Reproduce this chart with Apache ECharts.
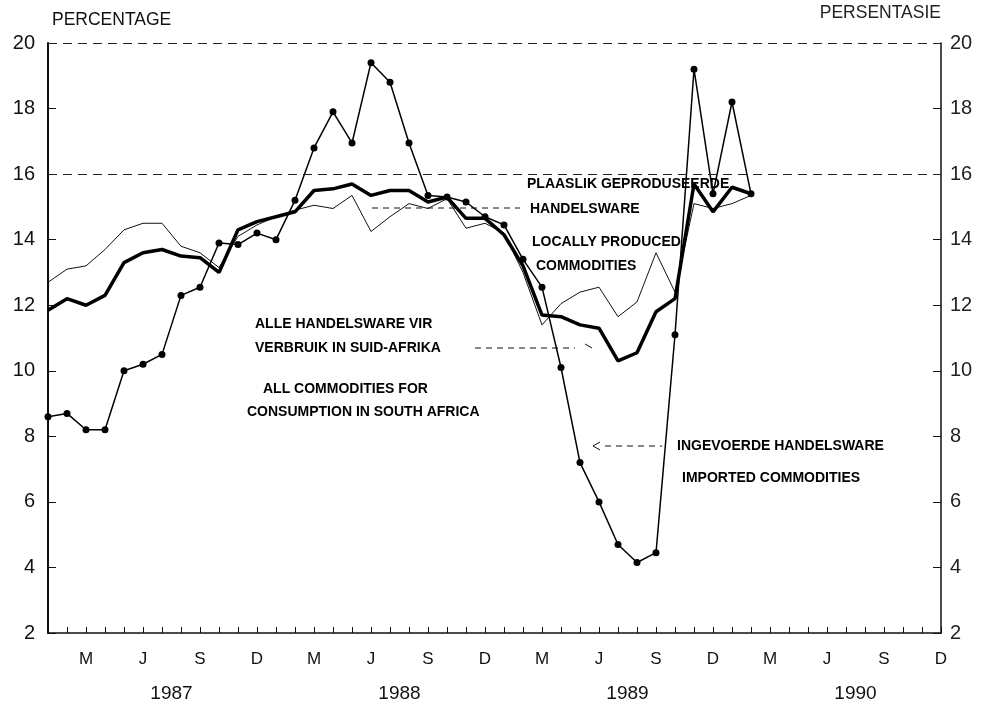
<!DOCTYPE html>
<html>
<head>
<meta charset="utf-8">
<script src="https://cdn.jsdelivr.net/npm/echarts@6/dist/echarts.min.js"></script>
<style>
  html, body { margin: 0; padding: 0; background: #fff; }
  #chart { width: 982px; height: 706px; }
</style>
</head>
<body>
<div id="chart"></div>
<script>
//--------------------------------
// Data
//--------------------------------
const years = ['1987', '1988', '1989', '1990'];
const monthNames = ['Jan', 'Feb', 'Mar', 'Apr', 'May', 'Jun', 'Jul', 'Aug', 'Sep', 'Oct', 'Nov', 'Dec'];
const quarterLetters = ['', '', 'M', '', '', 'J', '', '', 'S', '', '', 'D'];

// imported commodities (dots)
const imported = [
    8.6, 8.7, 8.2, 8.2, 10.0, 10.2, 10.5, 12.3, 12.55, 13.9, 13.85, 14.2,
    14.0, 15.2, 16.8, 17.9, 16.95, 19.4, 18.8, 16.95, 15.35, 15.3, 15.15, 14.7,
    14.45, 13.4, 12.55, 10.1, 7.2, 6.0, 4.7, 4.15, 4.45, 11.1, 19.2, 15.4,
    18.2, 15.4, null, null, null, null, null, null, null, null, null, null
];
// all commodities for consumption (thick)
const allCommodities = [
    11.85, 12.2, 12.0, 12.3, 13.3, 13.6, 13.7, 13.5, 13.45, 13.0, 14.3, 14.55,
    14.7, 14.85, 15.5, 15.55, 15.7, 15.35, 15.5, 15.5, 15.15, 15.3, 14.65, 14.65,
    14.15, 13.2, 11.7, 11.65, 11.4, 11.3, 10.3, 10.55, 11.8, 12.2, 15.7, 14.85,
    15.6, 15.4, null, null, null, null, null, null, null, null, null, null
];
// locally produced commodities (thin)
const locallyProduced = [
    12.7, 13.1, 13.2, 13.7, 14.3, 14.5, 14.5, 13.8, 13.6, 13.15, 14.1, 14.45,
    14.7, 14.9, 15.05, 14.95, 15.35, 14.25, 14.7, 15.1, 14.95, 15.25, 14.35, 14.5,
    14.2, 13.0, 11.4, 12.05, 12.4, 12.55, 11.65, 12.1, 13.6, 12.4, 15.1, 14.95,
    15.1, 15.35, null, null, null, null, null, null, null, null, null, null
];
const refLines = [16, 20];

const months = [];
for (let y of years) {
    for (let m of monthNames) {
        months.push(m + ' ' + y);
    }
}

//--------------------------------
// Chart
//--------------------------------
const myChart = echarts.init(document.getElementById('chart'));
const tickFont = 'Liberation Sans';

let options = {
    animation: false,
    backgroundColor: '#fff',
    grid: { left: 48, right: 41, top: 43, bottom: 73 },
    xAxis: {
        type: 'category',
        data: months,
        boundaryGap: false,
        axisLine: { lineStyle: { color: '#111', width: 1.5 } },
        axisTick: { show: true, inside: true, length: 6, interval: 0, lineStyle: { color: '#111' } },
        axisLabel: {
            interval: 0,
            margin: 18,
            color: '#111',
            fontFamily: tickFont,
            fontSize: 17,
            formatter: (v, i) => quarterLetters[i % 12]
        },
        splitLine: { show: false }
    },
    yAxis: [
        {
            type: 'value',
            min: 2, max: 20, interval: 2,
            position: 'left',
            name: 'PERCENTAGE',
            nameLocation: 'end',
            nameGap: 14,
            nameTextStyle: { align: 'left', color: '#111', fontFamily: tickFont, fontSize: 17.5, padding: [0, 0, 0, 4] },
            axisLine: { show: true, lineStyle: { color: '#111', width: 2 } },
            axisTick: { show: true, inside: true, length: 8, lineStyle: { color: '#111' } },
            axisLabel: { color: '#111', fontFamily: tickFont, fontSize: 20, margin: 13 },
            splitLine: { show: false }
        },
        {
            type: 'value',
            min: 2, max: 20, interval: 2,
            position: 'right',
            name: 'PERSENTASIE',
            nameLocation: 'end',
            nameGap: 21,
            nameTextStyle: { align: 'right', color: '#222', fontFamily: tickFont, fontSize: 17.5, padding: [0, 0, 0, 0] },
            axisLine: { show: true, lineStyle: { color: '#111', width: 1.5 } },
            axisTick: { show: true, inside: true, length: 8, lineStyle: { color: '#111' } },
            axisLabel: { color: '#222', fontFamily: tickFont, fontSize: 20, margin: 9 },
            splitLine: { show: false }
        }
    ],
    series: [
        {
            name: 'Locally produced',
            type: 'line',
            data: locallyProduced,
            symbol: 'none',
            lineStyle: { color: '#111', width: 1 },
            markLine: {
                silent: true,
                symbol: 'none',
                label: { show: false },
                lineStyle: { color: '#222', type: [9, 6], width: 1 },
                data: refLines.map(v => ({ yAxis: v }))
            }
        },
        {
            name: 'All commodities',
            type: 'line',
            data: allCommodities,
            symbol: 'none',
            lineStyle: { color: '#000', width: 3.5 }
        },
        {
            name: 'Imported',
            type: 'line',
            data: imported,
            symbol: 'circle',
            symbolSize: 7,
            itemStyle: { color: '#000' },
            lineStyle: { color: '#000', width: 1.5 }
        }
    ]
};
myChart.setOption(options);

//--------------------------------
// Annotations
//--------------------------------
const noteFont = 'bold 14px "Liberation Sans"';
const txt = (s, x, y) => ({
    type: 'text', silent: true,
    style: { text: s, x: x, y: y, font: noteFont, fill: '#000', verticalAlign: 'middle' }
});
const dash = (x1, y1, x2, y2) => ({
    type: 'line', silent: true,
    shape: { x1: x1, y1: y1, x2: x2, y2: y2 },
    style: { stroke: '#111', lineWidth: 1, lineDash: [6, 5] }
});
const arrowHead = (pts) => ({
    type: 'polyline', silent: true,
    shape: { points: pts },
    style: { stroke: '#111', lineWidth: 1, fill: null }
});

let graphics = [
    txt('PLAASLIK GEPRODUSEERDE', 527, 184),
    txt('HANDELSWARE', 530, 209),
    txt('LOCALLY PRODUCED', 532, 242),
    txt('COMMODITIES', 536, 266),
    dash(372, 208, 520, 208),

    txt('ALLE HANDELSWARE VIR', 255, 324),
    txt('VERBRUIK IN SUID-AFRIKA', 255, 348),
    dash(475, 348, 575, 348),
    arrowHead([[585, 344], [592, 348]]),
    txt('ALL COMMODITIES FOR', 263, 389),
    txt('CONSUMPTION IN SOUTH AFRICA', 247, 412),

    txt('INGEVOERDE HANDELSWARE', 677, 446),
    dash(605, 446, 662, 446),
    arrowHead([[600, 442], [593, 446], [600, 450]]),
    txt('IMPORTED COMMODITIES', 682, 478)
];

// year labels centred under the middle of each year
years.forEach((y, k) => {
    const a = myChart.convertToPixel({ xAxisIndex: 0 }, months[k * 12 + 6]);
    const b = myChart.convertToPixel({ xAxisIndex: 0 }, months[k * 12 + 7]);
    graphics.push({
        type: 'text', silent: true,
        style: {
            text: y, x: (a + b) / 2, y: 694,
            font: '19px "Liberation Sans"', fill: '#111',
            align: 'center', verticalAlign: 'middle'
        }
    });
});

myChart.setOption({ graphic: graphics });
</script>
</body>
</html>
